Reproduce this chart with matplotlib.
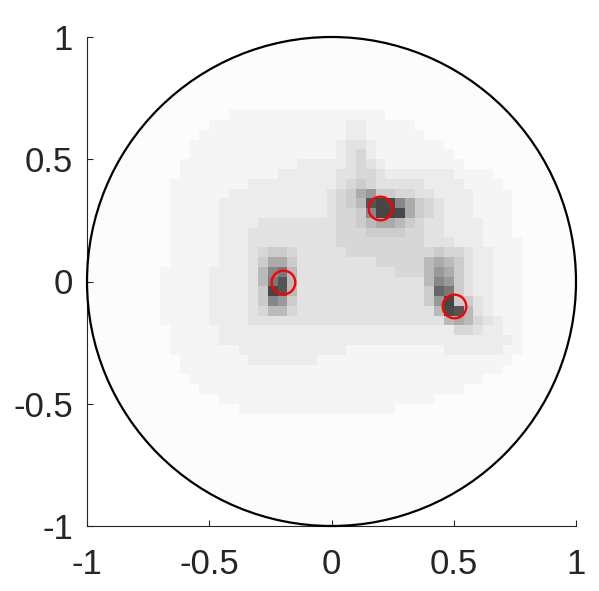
import numpy as np
import matplotlib
matplotlib.use("Agg")
import matplotlib.pyplot as plt
from matplotlib.patches import Circle

# ── Data ───────────────────────────────────────────────────────────────────────

# source positions (red rings)
SRC_X = [0.2, -0.2, 0.5]
SRC_Y = [0.3, 0.0, -0.1]

TICKS = [-1, -0.5, 0, 0.5, 1]
TICK_LABELS = ["-1", "-0.5", "0", "0.5", "1"]

# 51 x 51 grid on [-1, 1], step 0.04; rows run top (y=1) -> bottom
N_GRID = 51
# level code -> gray value
GRAY = {"0": 0.985, "1": 0.96, "2": 0.925, "3": 0.885, "4": 0.84, "5": 0.80,
        "6": 0.73, "7": 0.67, "8": 0.60, "9": 0.53, "a": 0.47, "b": 0.40,
        "c": 0.33, "d": 0.29, "e": 0.27}

# part of the map with signal: rows j=6..40, cols i=8..46
# column groups: i8-12 i13-17 i18-22 i23-27 i28-32 i33-37 i38-42 i43-46
ROW0, COL0 = 6, 8
LEVEL_MAP = [
    "00000 00000 00000 00000 00000 00000 00000 0000",  # j6
    "00000 00000 00000 00000 00000 00000 00000 0000",  # j7
    "00000 00111 11111 11111 11100 00000 00000 0000",  # j8
    "00000 11111 11111 11112 21111 10000 00000 0000",  # j9
    "00001 11111 11111 11112 21111 11000 00000 0000",  # j10
    "00011 11111 11111 11123 32111 11110 00000 0000",  # j11
    "00011 11111 11111 11123 42111 11111 00000 0000",  # j12
    "00111 11111 11112 22223 43211 11111 10000 0000",  # j13
    "00111 11111 11222 22233 44322 22222 11110 0000",  # j14
    "01111 11112 22222 22234 54333 33222 21111 0000",  # j15
    "01111 11222 22222 22345 78554 43322 22111 1000",  # j16
    "01111 12222 22222 22345 6ced9 75432 22111 1000",  # j17
    "01111 12222 22222 22344 59eed 75432 22111 1000",  # j18
    "01111 12222 33333 33344 56776 54332 22211 1000",  # j19
    "01111 12223 33333 33344 45555 44332 22211 1000",  # j20
    "01111 12223 33333 33344 44444 44333 22211 1100",  # j21
    "01111 12223 45543 33334 44444 44454 43221 1100",  # j22
    "01111 12223 57753 33333 33444 44676 53221 1100",  # j23
    "11111 22223 69a63 33333 33334 44687 53221 1100",  # j24
    "11111 22223 6ac63 33333 33333 33698 53221 1100",  # j25
    "11111 22223 5ec63 33333 33333 335ba 53221 1100",  # j26
    "11111 22223 59853 33333 33333 3358e 55321 1100",  # j27
    "11111 22223 46643 33333 33333 3336d c6321 1100",  # j28
    "11111 22223 33333 33333 33333 33336 76432 1100",  # j29
    "01111 12222 22222 22222 22222 22222 44322 1100",  # j30
    "01111 12222 22222 22222 22222 22222 22222 2100",  # j31
    "01111 11122 22222 22221 11111 11112 22222 1100",  # j32
    "00111 11112 22222 21111 11111 11111 11111 1000",  # j33
    "00111 11111 11111 11111 11111 11111 11111 0000",  # j34
    "00011 11111 11111 11111 11111 11111 11100 0000",  # j35
    "00001 11111 11111 11111 11111 11111 10000 0000",  # j36
    "00000 01111 11111 11111 11111 11100 00000 0000",  # j37
    "00000 00011 11111 11111 11110 00000 00000 0000",  # j38
    "00000 00000 00000 00000 00000 00000 00000 0000",  # j39
    "00000 00000 00000 00000 00000 00000 00000 0000",  # j40
]

# ── Build image ────────────────────────────────────────────────────────────────

img = np.full((N_GRID, N_GRID), GRAY["0"])
for r, row in enumerate(LEVEL_MAP):
    for c, ch in enumerate(row.replace(" ", "")):
        if COL0 + c < N_GRID:
            img[ROW0 + r, COL0 + c] = GRAY.get(ch, GRAY["0"])

# ── Plot ───────────────────────────────────────────────────────────────────────

plt.rcParams["font.family"] = ["Liberation Sans", "DejaVu Sans"]

fig = plt.figure(figsize=(5.99, 5.91), dpi=100)
ax = fig.add_axes([87 / 599, 65 / 591, 489 / 599, 489 / 591])

half = 1 + 1 / (N_GRID - 1)
im = ax.imshow(img, cmap="gray", vmin=0, vmax=1, interpolation="nearest",
               extent=[-half, half, -half, half], origin="upper", aspect="auto")
clip = Circle((0, 0), 1, transform=ax.transData, facecolor="none", edgecolor="none")
ax.add_patch(clip)
im.set_clip_path(clip)

ax.add_patch(Circle((0, 0), 1, facecolor="none", edgecolor="black",
                    linewidth=1.6, clip_on=False, zorder=3))

ax.plot(SRC_X, SRC_Y, linestyle="none", marker="o", markersize=17,
        markerfacecolor="none", markeredgecolor="red", markeredgewidth=1.7,
        zorder=4)

ax.set_xlim(-1, 1)
ax.set_ylim(-1, 1)
ax.set_xticks(TICKS)
ax.set_xticklabels(TICK_LABELS)
ax.set_yticks(TICKS)
ax.set_yticklabels(TICK_LABELS)

for side in ("top", "right"):
    ax.spines[side].set_visible(False)
for side in ("left", "bottom"):
    ax.spines[side].set_color("#262626")
    ax.spines[side].set_linewidth(0.8)

ax.tick_params(axis="both", direction="in", length=4, width=0.8,
               colors="#262626", labelsize=25)
ax.tick_params(axis="x", pad=16)
ax.tick_params(axis="y", pad=10)
ax.set_facecolor("white")

fig.savefig("out.png", dpi=100, facecolor="white")
